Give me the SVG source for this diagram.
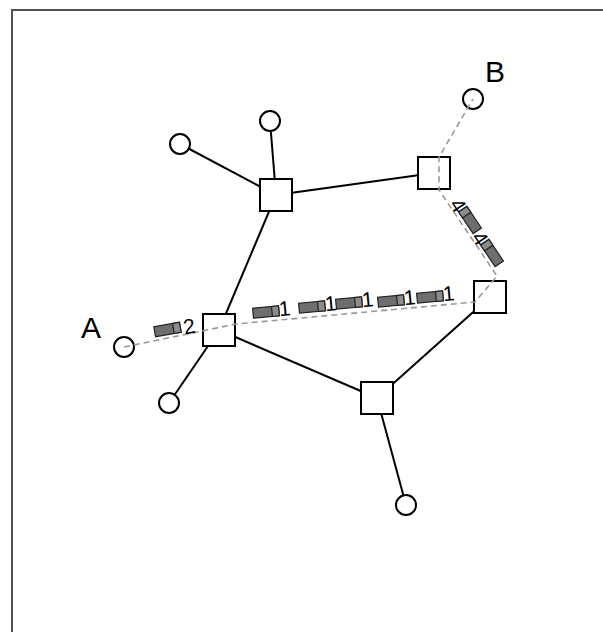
<svg xmlns="http://www.w3.org/2000/svg" width="603" height="632" viewBox="0 0 603 632">
<style>
.edge{stroke:#000;stroke-width:2;fill:none}
.route{stroke:#999;stroke-width:1.6;fill:none;stroke-dasharray:6,4}
.n{fill:#fff;stroke:#000;stroke-width:2}
.body{fill:#6e6e6e;stroke:#222;stroke-width:1.2}
.cap{fill:#8c8c8c;stroke:#222;stroke-width:1.2}
.lbl{font-family:"Liberation Sans",Arial,sans-serif;font-size:21px;fill:#000}
.big{font-family:"Liberation Sans",Arial,sans-serif;font-size:30px;fill:#000}
</style>
<rect x="0" y="0" width="603" height="632" fill="#fff"/>
<rect x="12" y="10" width="700" height="700" fill="none" stroke="#505050" stroke-width="2"/>
<g id="edges">
<line class="edge" x1="180" y1="144" x2="276" y2="195"/>
<line class="edge" x1="270" y1="121" x2="276" y2="195"/>
<line class="edge" x1="276" y1="195" x2="434" y2="173"/>
<line class="edge" x1="276" y1="195" x2="219" y2="330"/>
<line class="edge" x1="219" y1="330" x2="169" y2="403"/>
<line class="edge" x1="219" y1="330" x2="377" y2="398"/>
<line class="edge" x1="377" y1="398" x2="490" y2="297"/>
<line class="edge" x1="377" y1="398" x2="406" y2="505"/>
</g>
<g id="n1"><circle class="n" cx="180" cy="144" r="10"/></g>
<g id="n2"><circle class="n" cx="270" cy="121" r="10"/></g>
<g id="n3"><rect class="n" x="260" y="179" width="32" height="32"/></g>
<g id="n4"><rect class="n" x="418" y="157" width="32" height="32"/></g>
<g id="n5"><circle class="n" cx="473" cy="99" r="10"/></g>
<g id="n6"><rect class="n" x="203" y="314" width="32" height="32"/></g>
<g id="n7"><circle class="n" cx="124" cy="347" r="10"/></g>
<g id="n8"><circle class="n" cx="169" cy="403" r="10"/></g>
<g id="n9"><rect class="n" x="474" y="281" width="32" height="32"/></g>
<g id="n10"><rect class="n" x="361" y="382" width="32" height="32"/></g>
<g id="n11"><circle class="n" cx="406" cy="505" r="10"/></g>
<g id="route">
<path class="route" d="M124,347 L236,324 L475,302 L497,276 L439,190 L439,157 L473,99"/>
</g>
<g id="flows">
<g transform="translate(167.5,329.5) rotate(-10)"><rect class="body" x="-13" y="-5" width="26" height="10"/><rect class="cap" x="6" y="-5" width="7" height="10"/><text class="lbl" x="16" y="8">2</text></g>
<g transform="translate(266,312) rotate(-5.3)"><rect class="body" x="-13" y="-5" width="26" height="10"/><rect class="cap" x="6" y="-5" width="7" height="10"/><text class="lbl" x="13" y="5.5">1</text></g>
<g transform="translate(312,307) rotate(-5.3)"><rect class="body" x="-13" y="-5" width="26" height="10"/><rect class="cap" x="6" y="-5" width="7" height="10"/><text class="lbl" x="13" y="5.5">1</text></g>
<g transform="translate(349,303) rotate(-5.3)"><rect class="body" x="-13" y="-5" width="26" height="10"/><rect class="cap" x="6" y="-5" width="7" height="10"/><text class="lbl" x="13" y="5.5">1</text></g>
<g transform="translate(391,301) rotate(-5.3)"><rect class="body" x="-13" y="-5" width="26" height="10"/><rect class="cap" x="6" y="-5" width="7" height="10"/><text class="lbl" x="13" y="5.5">1</text></g>
<g transform="translate(430,297) rotate(-5.3)"><rect class="body" x="-13" y="-5" width="26" height="10"/><rect class="cap" x="6" y="-5" width="7" height="10"/><text class="lbl" x="13" y="5.5">1</text></g>
<g transform="translate(470,220) rotate(56)"><rect class="body" x="-13" y="-5" width="26" height="10"/><rect class="cap" x="-13" y="-5" width="7" height="10"/><text class="lbl" x="-13" y="9" text-anchor="end">4</text></g>
<g transform="translate(492,253) rotate(56)"><rect class="body" x="-13" y="-5" width="26" height="10"/><rect class="cap" x="-13" y="-5" width="7" height="10"/><text class="lbl" x="-13" y="9" text-anchor="end">4</text></g>
</g>
<g id="labels">
<text class="big" x="81" y="338">A</text>
<text class="big" x="485" y="82">B</text>
</g>
</svg>
